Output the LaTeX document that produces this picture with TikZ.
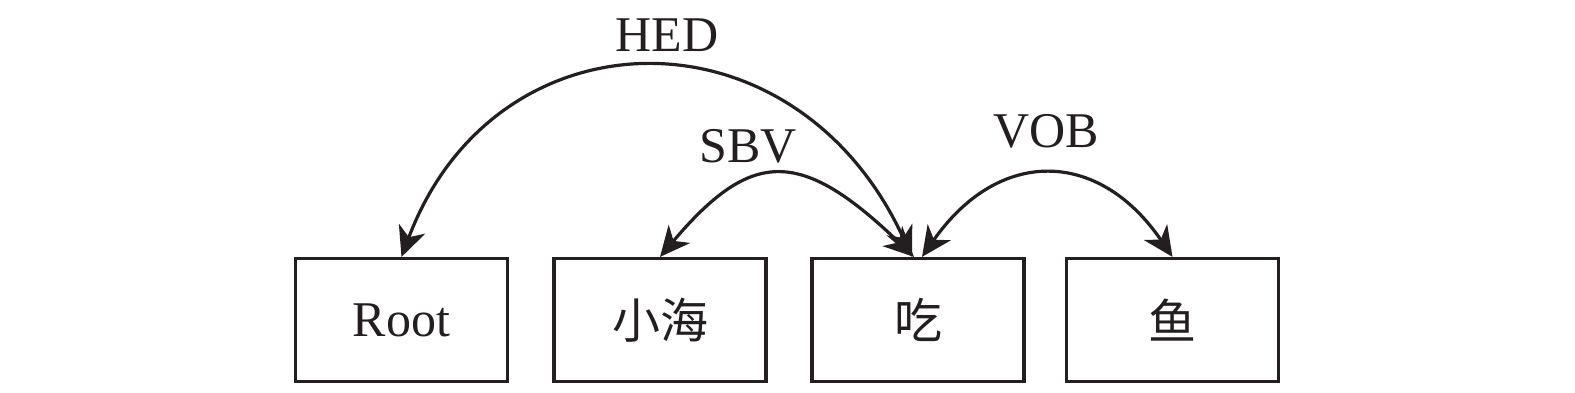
\documentclass[tikz,border=0pt]{standalone}
\usepackage{fontspec}
\setmainfont{Liberation Serif}
\newfontfamily\cjk{Noto Sans CJK SC}
\usetikzlibrary{arrows.meta}
\definecolor{ink}{HTML}{231F20}
\tikzset{
  wordbox/.style={draw=ink, line width=3.2pt, minimum width=212pt, minimum height=123pt, inner sep=0pt, font=\fontsize{50}{56}\selectfont, text=ink},
  cjkfont/.style={font=\cjk\fontsize{48}{54}\selectfont},
  deparc/.style={draw=ink, line width=3.2pt, {Stealth[length=30pt,width=28pt,inset=9pt]}-{Stealth[length=30pt,width=28pt,inset=9pt]}},
  deplabel/.style={font=\fontsize{50}{56}\selectfont, text=ink, inner sep=0pt}
}
\begin{document}
\begin{tikzpicture}[x=1pt,y=-1pt]
\useasboundingbox (0,0) rectangle (1575,393);
\node[wordbox] (root) at (401.5,320) {Root};
\node[wordbox, cjkfont] (xh) at (660,320) {小海};
\node[wordbox, cjkfont] (chi) at (918,320) {吃};
\node[wordbox, cjkfont] (yu) at (1172.5,320) {鱼};
\draw[deparc] (root.north) .. controls (495,8) and (795,2) .. ([xshift=-6pt]chi.north);
\draw[deparc] (xh.north) .. controls (752,148) and (801,148) .. ([xshift=-4pt]chi.north);
\draw[deparc] ([xshift=4pt]chi.north) .. controls (998,148) and (1098,148) .. (yu.north);
\node[deplabel] (hed) at (667,35) {HED};
\node[deplabel] (sbv) at (748,146) {SBV};
\node[deplabel] (vob) at (1046,131) {VOB};
\end{tikzpicture}
\end{document}
